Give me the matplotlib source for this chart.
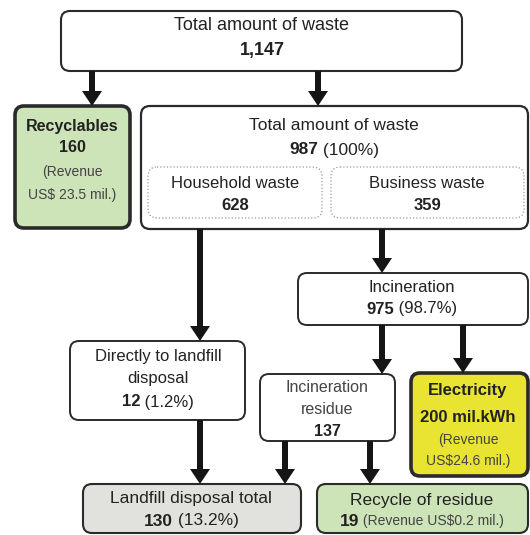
import matplotlib
matplotlib.use('Agg')
import matplotlib.pyplot as plt
from matplotlib.patches import FancyBboxPatch, FancyArrow

plt.rcParams['font.family'] = ['Liberation Sans', 'DejaVu Sans']

# --------------------------------------------------------------------------- #
# data (tonnes / %, revenue in US$ mil.)
# --------------------------------------------------------------------------- #
total_waste = '1,147'
recyclables = 160
recyclables_rev = 23.5
processed = 987
household = 628
business = 359
incinerated = 975
incinerated_pct = 98.7
direct_landfill = 12
direct_pct = 1.2
residue = 137
electricity_kwh = 200
electricity_rev = 24.6
landfill_total = 130
landfill_pct = 13.2
residue_recycled = 19
residue_rev = 0.2

# --------------------------------------------------------------------------- #
# layout (pixel coordinates, y down)
# --------------------------------------------------------------------------- #
W, H = 530, 535
GREEN, YELLOW, GREY = '#cde3b8', '#e8e431', '#e1e1de'
DARK, MID = '#222222', '#444444'

# name: (x0, y0, x1, y1, fill, lw, style)
boxes = {
    'top':       (61, 11, 462, 71, 'white', 1.5, '-'),
    'recyc':     (15, 106, 130, 228, GREEN, 2.6, '-'),
    'processed': (141, 106, 528, 229, 'white', 1.6, '-'),
    'household': (148, 167, 322, 218, 'white', 0.9, ':'),
    'business':  (331, 167, 524, 218, 'white', 0.9, ':'),
    'incin':     (298, 273, 528, 325, 'white', 1.4, '-'),
    'direct':    (70, 341, 245, 420, 'white', 1.4, '-'),
    'residue':   (260, 374, 395, 441, 'white', 1.4, '-'),
    'elec':      (411, 373, 528, 476, YELLOW, 2.6, '-'),
    'landfill':  (83, 484, 301, 533, GREY, 1.5, '-'),
    'recycle':   (317, 484, 528, 533, GREEN, 1.5, '-'),
}

# (x, y_from, y_to)
arrows = [
    (92, 71, 106), (318, 71, 106),
    (200, 229, 341), (382, 229, 273),
    (382, 325, 374), (463, 325, 373),
    (200, 420, 484), (285, 441, 484), (370, 441, 484),
]

fig = plt.figure(figsize=(W / 100, H / 100), dpi=100)
ax = fig.add_axes([0, 0, 1, 1])
ax.set_xlim(0, W)
ax.set_ylim(H, 0)
ax.axis('off')

for name, (x0, y0, x1, y1, fc, lw, ls) in boxes.items():
    ec = '#9a9a9a' if ls == ':' else '#2a2a2a'
    ax.add_patch(FancyBboxPatch((x0, y0), x1 - x0, y1 - y0,
                                boxstyle='round,pad=0,rounding_size=9',
                                fc=fc, ec=ec, lw=lw, ls=ls, zorder=2 if ls == ':' else 1))

for x, ya, yb in arrows:
    ax.add_patch(FancyArrow(x, ya, 0, yb - ya, width=6, head_width=20, head_length=15,
                            length_includes_head=True, color='#151515', lw=0, zorder=3))

renderer = fig.canvas.get_renderer()


def line(cx, cy, parts):
    """parts = [(text, bold, size, color)] drawn side by side, centred on cx."""
    objs = []
    for txt, bold, size, col in parts:
        t = ax.text(0, cy, txt, fontsize=size, fontweight='bold' if bold else 'normal',
                    color=col, ha='left', va='center', zorder=4)
        objs.append(t)
    widths = [t.get_window_extent(renderer).width for t in objs]
    x = cx - sum(widths) / 2
    for t, w in zip(objs, widths):
        t.set_x(x)
        x += w


def label(cx, cy, txt, bold=False, size=12.5, col=DARK):
    line(cx, cy, [(txt, bold, size, col)])


label(262, 26, 'Total amount of waste', size=13)
label(262, 50, total_waste, bold=True, size=13)

label(72, 126, 'Recyclables', bold=True, size=11.5)
label(72, 148, f'{recyclables}', bold=True, size=11.5)
label(72, 172, '(Revenue', size=10, col=MID)
label(72, 195, f'US$ {recyclables_rev} mil.)', size=10, col=MID)

label(334, 125, 'Total amount of waste', size=12.5)
line(334, 150, [(f'{processed}', True, 12.5, DARK), (' (100%)', False, 12.5, DARK)])
label(235, 183, 'Household waste', size=12)
label(235, 205, f'{household}', bold=True, size=12)
label(427, 183, 'Business waste', size=12)
label(427, 205, f'{business}', bold=True, size=12)

label(412, 287, 'Incineration', size=12)
line(412, 309, [(f'{incinerated}', True, 12, DARK), (f' ({incinerated_pct}%)', False, 12, DARK)])

label(158, 357, 'Directly to landfill', size=12)
label(158, 379, 'disposal', size=12)
line(158, 402, [(f'{direct_landfill}', True, 12, DARK), (f' ({direct_pct}%)', False, 12, DARK)])

label(327, 388, 'Incineration', size=11.5, col=MID)
label(327, 410, 'residue', size=11.5, col=MID)
label(327, 431, f'{residue}', bold=True, size=11.5)

label(468, 391, 'Electricity', bold=True, size=12)
label(468, 418, f'{electricity_kwh} mil.kWh', bold=True, size=12)
label(468, 440, '(Revenue', size=10, col=MID)
label(468, 461, f'US${electricity_rev} mil.)', size=10, col=MID)

label(191, 499, 'Landfill disposal total', size=12.5)
line(191, 521, [(f'{landfill_total}', True, 12.5, DARK), (f' ({landfill_pct}%)', False, 12.5, DARK)])

label(422, 500, 'Recycle of residue', size=12.5)
line(422, 521, [(f'{residue_recycled}', True, 12.5, DARK),
                (f' (Revenue US${residue_rev} mil.)', False, 10, MID)])

fig.savefig('out.png', dpi=100)
